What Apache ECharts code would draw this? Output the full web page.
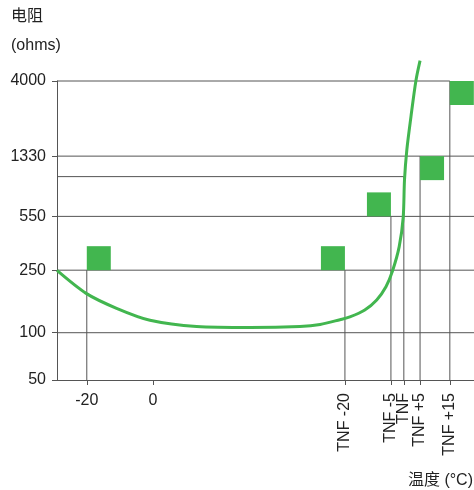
<!DOCTYPE html>
<html>
<head>
<meta charset="utf-8">
<script src="https://cdn.jsdelivr.net/npm/echarts@6/dist/echarts.min.js"></script>
<style>html,body{margin:0;padding:0;background:#fff;}#c{width:474px;height:490px;}</style>
</head>
<body>
<div id="c"></div>
<script>
const yTickValues = [50, 100, 250, 550, 1330, 4000];
const xTickValues = [-20, 0];
const xTickLabels = ['-20', '0'];
const tnfTickValues = [58, 71.9, 75.8, 80.7, 89.7];
const tnfTickLabels = ['TNF -20', 'TNF -5', 'TNF', 'TNF +5', 'TNF +15'];

const curveX = [-29, -20.2, -11, -0.9, 13.2, 29.3, 44.4, 50.5, 56.5, 59.5, 64, 67.6, 70.4, 72.4, 74.4, 75.6, 76.0, 76.7, 77.95, 79.45, 80.7];
const curveY = [249, 178, 143, 120, 109.6, 108, 109.6, 112.8, 121, 126, 139.5, 161.5, 196, 248, 353, 540, 937, 1455, 2371, 4020, 5390];

const squareX = [-20, 58, 71.9, 80.7, 89.7];
const squareY = [250, 250, 550, 1330, 4000];
const squareCorner = ['bottomLeft', 'bottomRight', 'bottomRight', 'topLeft', 'topLeft'];

const dropX = [-20, 58, 71.9, 75.8, 80.7, 89.7];
const dropTop = [250, 250, 550, 985, 1330, 4000];
const levelY = [4000, 1330, 985, 550, 250, 100];
const levelEnd = [89.7, 97, 75.8, 97, 97, 97];

const X_MIN = -29, X_MAX = 97, Y_MIN = 50, Y_MAX = 4000;
const FONT = "'Liberation Sans', 'Noto Sans CJK SC', sans-serif";
const GREEN = '#42b64f';
const LINE = '#555';

const segments = [];
dropX.forEach((x, i) => segments.push([x, Y_MIN, x, dropTop[i]]));
levelY.forEach((y, i) => segments.push([X_MIN, y, levelEnd[i], y]));

const squares = squareX.map((x, i) => [x, squareY[i], i]);

const chart = echarts.init(document.getElementById('c'));
chart.setOption({
  animation: false,
  grid: { left: 57, right: 0, top: 81, bottom: 110 },
  xAxis: [
    {
      type: 'value', min: X_MIN, max: X_MAX, position: 'bottom',
      axisLine: { show: true, onZero: false, lineStyle: { color: LINE, width: 1 } },
      axisTick: { show: true, length: 5, customValues: xTickValues.concat(tnfTickValues), lineStyle: { color: LINE } },
      axisLabel: {
        customValues: xTickValues, margin: 13, fontSize: 16, color: '#222', fontFamily: FONT,
        formatter: v => xTickLabels[xTickValues.indexOf(v)]
      },
      splitLine: { show: false }
    },
    {
      type: 'value', min: X_MIN, max: X_MAX, position: 'bottom', offset: 0,
      axisLine: { show: false, onZero: false }, axisTick: { show: false },
      axisLabel: {
        customValues: tnfTickValues, rotate: 90, margin: 13, fontSize: 16, color: '#222', fontFamily: FONT,
        formatter: v => tnfTickLabels[tnfTickValues.indexOf(v)]
      },
      splitLine: { show: false }
    }
  ],
  yAxis: {
    type: 'log', min: Y_MIN, max: Y_MAX, logBase: 10,
    axisLine: { show: true, onZero: false, lineStyle: { color: LINE, width: 1 } },
    axisTick: { show: true, length: 5, customValues: yTickValues, lineStyle: { color: LINE } },
    axisLabel: { customValues: yTickValues, margin: 11, fontSize: 16, color: '#222', fontFamily: FONT,
      formatter: v => String(Math.round(v)) },
    splitLine: { show: false }
  },
  graphic: [
    { type: 'text', left: 11, top: 9, style: { text: '电阻', fontSize: 16, fill: '#222', fontFamily: FONT } },
    { type: 'text', left: 11, top: 38, style: { text: '(ohms)', fontSize: 16, fill: '#222', fontFamily: FONT } },
    { type: 'text', right: 1, top: 473, style: { text: '温度 (°C)', fontSize: 16, fill: '#222', fontFamily: FONT } }
  ],
  series: [
    {
      type: 'custom', xAxisIndex: 0, silent: true, z: 1,
      data: segments,
      renderItem: (params, api) => {
        const a = api.coord([api.value(0), api.value(1)]);
        const b = api.coord([api.value(2), api.value(3)]);
        return { type: 'line', shape: { x1: a[0], y1: a[1], x2: b[0], y2: b[1] }, style: { stroke: LINE, lineWidth: 1 } };
      }
    },
    {
      type: 'custom', xAxisIndex: 0, silent: true, z: 2,
      data: squares,
      renderItem: (params, api) => {
        const p = api.coord([api.value(0), api.value(1)]);
        const s = 24;
        const c = squareCorner[api.value(2)];
        const x = c === 'bottomRight' ? p[0] - s : p[0];
        const y = c === 'topLeft' ? p[1] : p[1] - s;
        return { type: 'rect', shape: { x: x, y: y, width: s, height: s }, style: { fill: GREEN } };
      }
    },
    {
      type: 'line', xAxisIndex: 0, clip: false, z: 3,
      data: curveX.map((x, i) => [x, curveY[i]]),
      smooth: 0.3, showSymbol: false,
      lineStyle: { color: GREEN, width: 3 }
    }
  ]
});
</script>
</body>
</html>
